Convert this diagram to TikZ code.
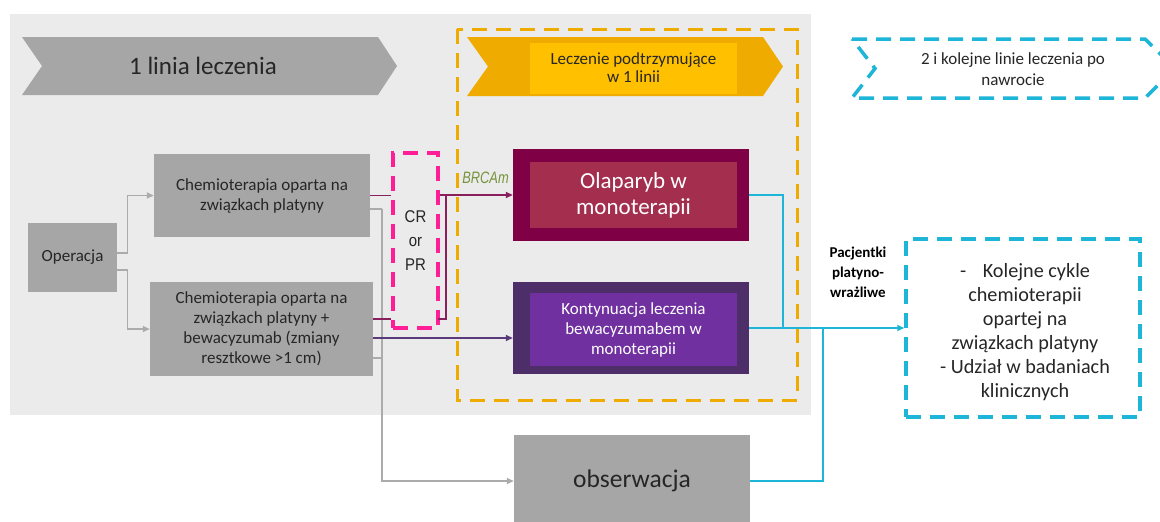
\documentclass[tikz,border=0pt]{standalone}
\usepackage{fontspec}
\setmainfont{Carlito}
\newfontfamily\arialf[FakeStretch=0.88]{Liberation Sans}
\newfontfamily\arialn[FakeStretch=0.78]{Liberation Sans}
\usetikzlibrary{arrows.meta}
\definecolor{bgc}{HTML}{EBEBEB}
\definecolor{boxgrey}{HTML}{A6A6A6}
\definecolor{linegrey}{HTML}{ABABAB}
\definecolor{textdark}{HTML}{262626}
\definecolor{orangeA}{HTML}{F0AB00}
\definecolor{orangeB}{HTML}{FFC000}
\definecolor{bluec}{HTML}{1DB5D8}
\definecolor{pinkc}{HTML}{FF1E96}
\definecolor{olapout}{HTML}{800046}
\definecolor{olapin}{HTML}{A32E4E}
\definecolor{kontout}{HTML}{4D2E69}
\definecolor{kontin}{HTML}{7030A0}
\definecolor{magline}{HTML}{8A1F5E}
\definecolor{purpline}{HTML}{5B3A7C}
\definecolor{brcagreen}{HTML}{77933C}
\begin{document}
\begin{tikzpicture}[x=1pt,y=-1pt,
  greybox/.style={fill=boxgrey, text=textdark, align=center, inner sep=0pt, font=\fontsize{17}{20}\selectfont},
  garrow/.style={draw=linegrey, line width=1.4pt, -{Triangle[length=7pt,width=6pt]}},
  gline/.style={draw=linegrey, line width=1.4pt},
  mline/.style={draw=magline, line width=1.6pt},
  marrow/.style={draw=magline, line width=1.6pt, -{Triangle[length=7pt,width=6pt]}},
  parrow/.style={draw=purpline, line width=1.6pt, -{Triangle[length=7pt,width=6pt]}},
  bline/.style={draw=bluec, line width=1.6pt},
  barrow/.style={draw=bluec, line width=1.6pt, -{Triangle[length=7pt,width=6pt]}},
  dashbox/.style={line width=3pt, dash pattern=on 15pt off 9pt}
]
\useasboundingbox (0,0) rectangle (1160,522);
\clip (0,0) rectangle (1160,522);
\fill[white] (0,0) rectangle (1160,522);
% background panel
\fill[bgc] (10,14) rectangle (811,415);
% chevron 1
\fill[boxgrey] (22,37) -- (378,37) -- (397,66) -- (378,95) -- (22,95) -- (42,66) -- cycle;
\node[text=textdark, font=\fontsize{25}{30}\selectfont] (line1) at (203,66) {1 linia leczenia};
% orange dashed frame
\draw[orangeA, dashbox] (457,29) rectangle (797,400);
% orange chevron
\fill[orangeA] (467,37) -- (763,37) -- (783,66.5) -- (763,96) -- (467,96) -- (488,66.5) -- cycle;
\node[fill=orangeB, text=textdark, minimum width=207, minimum height=51, inner sep=0pt, align=center, font=\fontsize{17}{18}\selectfont] (maint) at (633.5,68) {Leczenie podtrzymujące\\w 1 linii};
% blue dashed chevron
\draw[bluec, dashbox, line width=3.5pt] (852,39) -- (1145,39) -- (1175,68.5) -- (1145,98) -- (852,98) -- (875,68.5) -- cycle;
\node[text=textdark, align=center, font=\fontsize{17}{21}\selectfont] (nextl) at (1013,69) {2 i kolejne linie leczenia po\\nawrocie};
% boxes
\node[greybox, minimum width=89, minimum height=69] (op) at (72.5,257.5) {Operacja};
\node[greybox, minimum width=216, minimum height=83] (ch1) at (262,195.5) {Chemioterapia oparta na\\związkach platyny};
\node[greybox, minimum width=223, minimum height=94] (ch2) at (261.5,329) {Chemioterapia oparta na\\związkach platyny +\\bewacyzumab (zmiany\\resztkowe >1 cm)};
\node[draw=pinkc, dashbox, line width=3.5pt, minimum width=45, minimum height=175, inner sep=0pt, align=center, text=textdark, font=\arialf\fontsize{17}{24}\selectfont] (crpr) at (415.5,240.5) {CR\\or\\PR};
\node[fill=olapout, minimum width=236, minimum height=92, inner sep=0pt] (olap) at (631,195) {};
\node[fill=olapin, text=white, minimum width=207, minimum height=66, inner sep=0pt, align=center, font=\fontsize{23}{26}\selectfont] (olapt) at (633.5,195) {Olaparyb w\\monoterapii};
\node[fill=kontout, minimum width=236, minimum height=92, inner sep=0pt] (kont) at (631,328) {};
\node[fill=kontin, text=white, minimum width=207, minimum height=73, inner sep=0pt, align=center, font=\fontsize{17}{20}\selectfont] (kontt) at (633.5,329.5) {Kontynuacja leczenia\\bewacyzumabem w\\monoterapii};
\node[greybox, minimum width=236, minimum height=92, font=\fontsize{25.5}{30}\selectfont] (obs) at (632,481) {obserwacja};
\node[draw=bluec, dashbox, line width=3.5pt, minimum width=234, minimum height=178, inner sep=0pt, align=center, text=textdark, font=\fontsize{20.2}{24}\selectfont] (nxt) at (1023,328) {};
\node[text=textdark, align=center, inner sep=0pt, font=\fontsize{20.2}{24}\selectfont] (nxtt) at (1025,332.5) {-\hspace{12pt} Kolejne cykle\\chemioterapii\\opartej na\\związkach platyny\\- Udział w badaniach\\klinicznych};
% labels
\node[text=brcagreen, font=\arialn\itshape\fontsize{16.5}{18}\selectfont, inner sep=0pt] (brca) at (485.5,178) {BRCAm};
\node[text=black, align=center, font=\bfseries\fontsize{15}{20}\selectfont, inner sep=0pt] (pac) at (858,272) {Pacjentki\\platyno-\\wrażliwe};
% coordinates
\coordinate (gv) at (382,209);
\coordinate (gb) at (382,481);
\coordinate (brk) at (446,195);
\coordinate (c2m) at (438,319);
\coordinate (bv1) at (783,195);
\coordinate (bj1) at (783,328);
\coordinate (bv2) at (823,481);
\coordinate (bj2) at (823,328);
\coordinate (c1g) at ([yshift=-13.5pt]ch1.east);
\coordinate (c2g) at ([yshift=-29pt]ch2.east);
\coordinate (c2p) at ([yshift=10pt]ch2.east);
\coordinate (c2k) at ([yshift=-9pt]ch2.east);
\coordinate (opa) at ([yshift=4.5pt]op.east);
\coordinate (opb) at ([yshift=-12.5pt]op.east);
% grey connectors
\draw[garrow] (opa) -- ++(10,0) |- (ch1.west);
\draw[garrow] (opb) -- ++(10,0) |- (ch2.west);
\draw[gline] (c1g) -| (gv);
\draw[garrow] (gv) -- (gb) -- (obs.west);
\draw[gline] (c2g) -- (gv |- c2g);
% magenta connectors
\draw[mline] (ch1.east) -- (crpr.west |- ch1.east);
\draw[mline] (c2p) -- (crpr.west |- c2p);
\draw[marrow] (crpr.east |- olap.west) -- (olap.west);
\draw[mline] (brk) |- (c2m);
% purple connector
\draw[parrow] (c2k) -- (kont.west |- c2k);
% blue connectors
\draw[bline] (olap.east) -- (bv1) -- (bj1);
\draw[barrow] (kont.east) -- (nxt.west);
\draw[bline] (obs.east) -- (bv2) -- (bj2);
\end{tikzpicture}
\end{document}
